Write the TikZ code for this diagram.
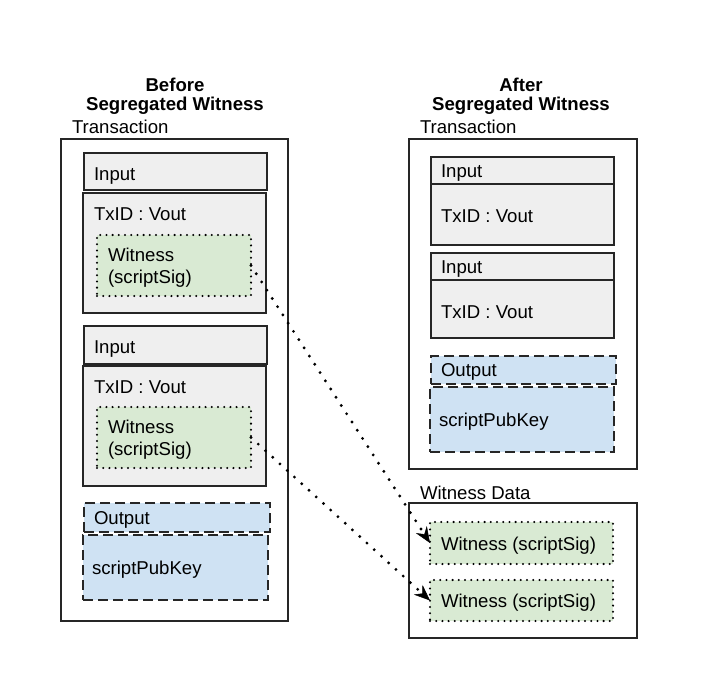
\documentclass[tikz,border=0pt]{standalone}
\usepackage{fontspec}
\setmainfont{Liberation Sans}
\usetikzlibrary{fit,arrows.meta}
\definecolor{boxgray}{HTML}{EFEFEF}
\definecolor{witgreen}{HTML}{D9EAD3}
\definecolor{outblue}{HTML}{CFE2F3}
\begin{document}
\begin{tikzpicture}[x=1pt,y=-1pt,
  every node/.style={inner sep=0pt, outer sep=0pt},
  frame/.style={draw=black!85, line width=1.2pt, fit={#1}},
  graybox/.style={frame={#1}, fill=boxgray},
  witbox/.style={fit={#1}, fill=witgreen, draw=black, line width=2.3pt,
    dash pattern=on 0pt off 6.2pt, line cap=round},
  outbox/.style={fit={#1}, fill=outblue, draw=black!85, line width=2pt,
    dash pattern=on 10pt off 5pt},
  lbl/.style={anchor=base west, font=\fontsize{18.6}{21}\selectfont},
  twoline/.style={anchor=west, align=left, font=\fontsize{18.6}{21.5}\selectfont},
  title/.style={align=center, font=\bfseries\fontsize{18.6}{19}\selectfont},
  moveline/.style={line width=3.2pt, dash pattern=on 0pt off 9.8pt, line cap=round,
    -{Stealth[length=16pt, width=13pt, inset=5.5pt, line width=0.5pt]}}
]
\fill[white] (0,0) rectangle (706,690);
\useasboundingbox (0,0) rectangle (706,690);

% ---------- before segregated witness ----------
\node[title] (tleft) at (175,96.5) {Before\\Segregated Witness};
\node[lbl] (ltxlbl) at (72,133.5) {Transaction};
\node[frame={(61,139) (288,621)}] (ltx) {};

\node[graybox={(84,153) (267,190)}] (lin1) {};
\node[graybox={(83,193) (266,313)}] (lid1) {};
\node[witbox={(97,235) (251,296)}] (lw1) {};
\node[lbl] (lin1t) at (94,180) {Input};
\node[lbl] (lid1t) at (94,220) {TxID : Vout};
\node[twoline] (lw1t) at (108,267.5) {Witness\\(scriptSig)};

\node[graybox={(84,326) (267,364)}] (lin2) {};
\node[graybox={(83,366) (266,486)}] (lid2) {};
\node[witbox={(97,407) (251,468)}] (lw2) {};
\node[lbl] (lin2t) at (94,353) {Input};
\node[lbl] (lid2t) at (94,393) {TxID : Vout};
\node[twoline] (lw2t) at (108,439.5) {Witness\\(scriptSig)};

\node[outbox={(84,503) (270,532)}] (lout) {};
\node[outbox={(83,535) (268,600)}] (lspk) {};
\node[lbl] (loutt) at (94,524.5) {Output};
\node[lbl] (lspkt) at (92,574) {scriptPubKey};

% ---------- after segregated witness ----------
\node[title] (tright) at (521,96.5) {After\\Segregated Witness};
\node[lbl] (rtxlbl) at (420,133.5) {Transaction};
\node[frame={(409,139) (637,469)}] (rtx) {};

\node[graybox={(431,157) (614,184)}] (rin1) {};
\node[graybox={(431,184) (614,245)}] (rid1) {};
\node[lbl] (rin1t) at (441,177.5) {Input};
\node[lbl] (rid1t) at (441,222) {TxID : Vout};

\node[graybox={(431,253) (614,280)}] (rin2) {};
\node[graybox={(431,280) (614,338)}] (rid2) {};
\node[lbl] (rin2t) at (441,273.5) {Input};
\node[lbl] (rid2t) at (441,318) {TxID : Vout};

\node[outbox={(431,356) (616,384)}] (rout) {};
\node[outbox={(430,387) (614,452)}] (rspk) {};
\node[lbl] (routt) at (441,376.5) {Output};
\node[lbl] (rspkt) at (439,426) {scriptPubKey};

\node[lbl] (wdlbl) at (420,499.5) {Witness Data};
\node[frame={(409,503) (637,638)}] (wdata) {};
\node[witbox={(430,522) (613,564)}] (rw1) {};
\node[witbox={(430,580) (613,621)}] (rw2) {};
\node[lbl] (rw1t) at (441,550) {Witness (scriptSig)};
\node[lbl] (rw2t) at (441,607) {Witness (scriptSig)};

% ---------- witnesses moved out of the inputs ----------
\draw[moveline] (lw1.east) -- (rw1.west);
\draw[moveline] (lw2.east) -- (rw2.west);
\end{tikzpicture}
\end{document}
